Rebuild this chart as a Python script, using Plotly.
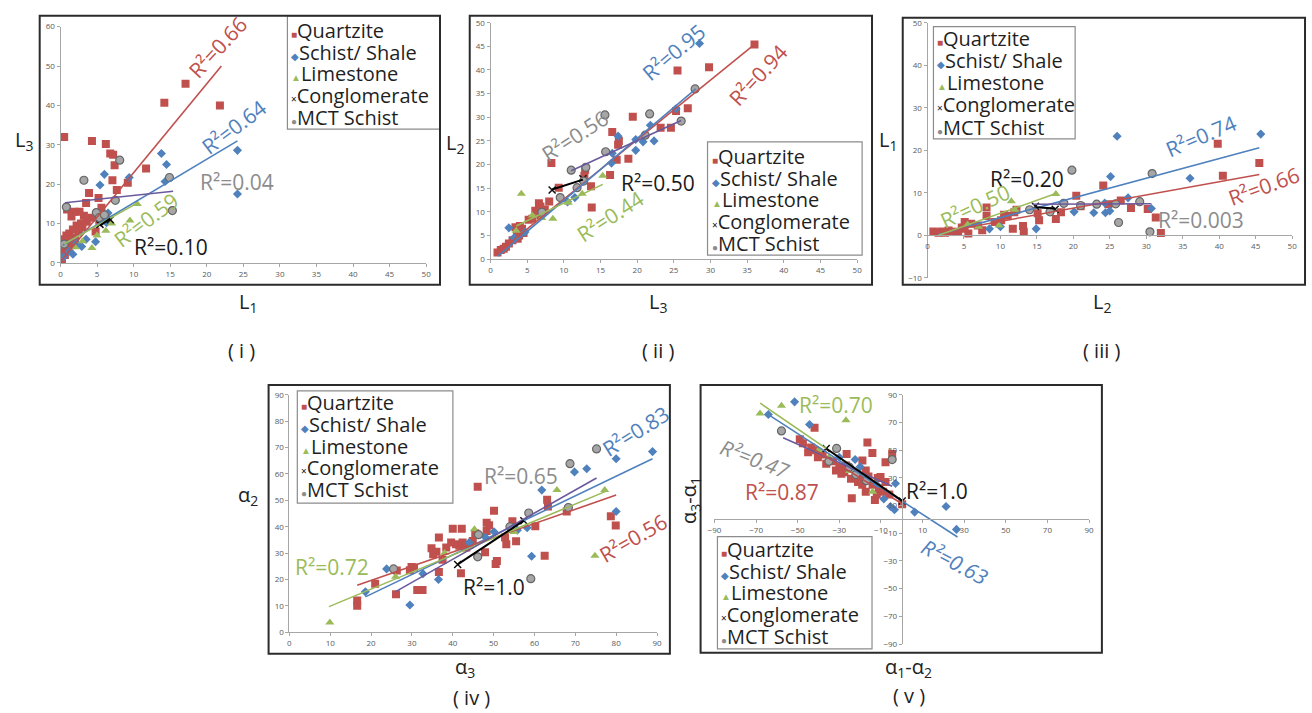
import plotly.graph_objects as go

W, H = 1312, 713

SERIES = ["Quartzite", "Schist/ Shale", "Limestone", "Conglomerate", "MCT Schist"]

# ---------------- Panel (i): L1 (x) vs L3 (y) ----------------
P1_QUARTZITE = [(0.5, 32), (4.3, 31), (6.2, 30.2), (6.8, 27.8), (7.2, 27.5), (7.4, 24.8), (7.1, 21), (7.7, 18.5),
                (9.2, 20.4), (11.7, 24), (14.2, 40.7), (17.1, 45.5), (21.8, 40), (5.2, 16.5), (3.9, 17.8), (3.5, 15.2),
                (2.6, 13), (1.9, 13), (0.9, 13.6), (1.5, 11.8), (5.6, 14), (5.3, 10.7), (4.8, 8), (3.2, 12), (2.8, 10),
                (2.2, 9.5), (1.7, 8.5), (1.2, 7.5), (0.8, 7), (0.5, 6), (1.0, 5), (1.5, 5.5), (2.0, 6.5), (0.3, 3),
                (0.6, 2), (1.1, 3.5), (0.2, 1), (2.5, 8), (3.0, 9), (3.6, 10.5), (4.2, 11.5), (6.0, 12), (6.5, 11),
                (1.3, 4.5)]
P1_SCHIST = [(24.2, 28.6), (24.2, 17.5), (13.8, 27.8), (14.5, 25), (14.3, 20.7), (6, 22.5), (5.4, 19.8), (9.4, 21.7),
             (4.8, 5.4), (2.9, 4.2), (1.7, 2.2), (6.5, 12.7), (5.8, 11.5), (6.3, 10.2), (0.4, 1.5), (1.2, 3), (3.5, 6),
             (2.2, 5)]
P1_LIMESTONE = [(4.3, 3.8), (6.2, 8.2), (7, 10), (9.5, 10.8), (10.5, 15), (3, 5.5), (2, 4), (5, 7)]
P1_CONGLOMERATE = [(5.4, 9.8), (6.8, 11.0)]
P1_MCT = [(0.8, 14.2), (3.2, 21), (8.1, 26.1), (7.5, 15.9), (14.9, 21.7), (15.3, 13.3), (4.9, 12.8), (5.3, 11.5),
          (0.5, 4.8), (6, 12.2)]
P1_TRENDS = [(0, 0.2, 0.8, 22, 50), (1, 0.3, 4.5, 24.2, 31), (4, 0.6, 15.3, 15.4, 18.2), (2, 0.5, 4.8, 10.3, 15),
             (3, 5.4, 9.5, 6.8, 11.3)]
P1_R2 = [(0, "0.66"), (1, "0.64"), (4, "0.04"), (2, "0.59"), (3, "0.10")]

# ---------------- Panel (ii): L3 (x) vs L2 (y) ----------------
P2_QUARTZITE = [(36, 45.4), (25.5, 39.9), (29.8, 40.6), (26.9, 31.9), (25.3, 31.3), (23.2, 27.8), (24.6, 27.8),
                (19.4, 30.1), (16.6, 26.9), (17.5, 25), (17.4, 24.2), (17.2, 21), (18.8, 21.2), (16.3, 17.8),
                (13.8, 10.9), (13.7, 15.4), (8.3, 20.3), (12.9, 18.9), (12.8, 17.6), (9.3, 15.1), (8, 12.2),
                (6.6, 11.8), (6.8, 11.1), (6.8, 9.2), (5.7, 8.5), (5.2, 8.3), (6.1, 10.2), (7.4, 10.5), (3.6, 5.7),
                (3.4, 6.7), (4.3, 6.4), (3.9, 5), (3.0, 4), (2.1, 2.6), (1.4, 1.9), (0.95, 1.4), (4.0, 7), (3.7, 4.3),
                (2.5, 3.3), (4.5, 5.5), (1.8, 2.2)]
P2_SCHIST = [(28.5, 45.6), (17.4, 26), (21.8, 28.3), (22.3, 25), (19.8, 25.3), (19.8, 23), (20.8, 24.8), (16.6, 22.4),
             (16.5, 20.3), (10.5, 12.1), (4.7, 5.7), (2.5, 6.6), (3.2, 4.5), (11.5, 13), (25.3, 31.8)]
P2_LIMESTONE = [(4.2, 13.8), (15.3, 17.6), (8.5, 8.5), (10.6, 11.9), (5.7, 9.2), (7, 8.7), (12.5, 13.8), (3.5, 6)]
P2_CONGLOMERATE = [(8.4, 14.6), (12.6, 17.0)]
P2_MCT = [(15.6, 30.5), (21.7, 30.7), (26, 29.2), (21.1, 26.2), (15.7, 22.7), (11, 18.8), (13, 19.4), (12.7, 16.5),
          (11.8, 15.1), (27.9, 36), (7, 9.9), (9.5, 13)]
P2_TRENDS = [(0, 0.9, 1.2, 36, 45.4), (1, 1.0, 0.6, 28, 36), (4, 11, 18.7, 26, 29.3), (2, 3.5, 7, 15.3, 15.8),
             (3, 8.4, 14.7, 12.6, 16.8)]
P2_R2 = [(1, "0.95"), (0, "0.94"), (4, "0.56"), (3, "0.50"), (2, "0.44")]

# ---------------- Panel (iii): L2 (x) vs L1 (y) ----------------
P3_QUARTZITE = [(39.8, 21.5), (45.5, 17), (40.5, 14), (24.1, 11.7), (20.4, 9.3), (26.5, 8.2), (27.9, 6.4), (30.2, 6.2),
                (31.3, 4.2), (32, 0.5), (24.8, 7.3), (21, 6.8), (18.3, 5.4), (17.6, 3.8), (15.1, 5.2), (15.3, 3.5),
                (13.2, 0.8), (13.1, 2.2), (11.7, 1.5), (8.1, 4.5), (8.1, 6.5), (11.9, 5.4), (10.1, 3.5), (6.9, 2.3),
                (5.1, 1.5), (4.2, 0.8), (3.3, 0.8), (2.4, 0.6), (1.5, 0.6), (0.8, 0.9), (5.1, 3.1), (6, 2.7),
                (5.6, 0.4), (11, 4.6), (9.2, 3.1), (12.2, 6), (10.5, 4.8), (7.5, 1.2), (4.7, 1.8), (2.9, 1.1),
                (1.9, 0.9)]
P3_SCHIST = [(26, 23.3), (25.1, 13.8), (36, 13.4), (45.7, 23.8), (27.5, 8.8), (30.7, 6.3), (22.8, 5.3), (20.1, 5.5),
             (24.3, 7.6), (24.4, 5.3), (14.9, 1.5), (8.5, 1.5), (25, 5.7), (18.5, 7.5), (10, 2)]
P3_LIMESTONE = [(11.5, 8), (17.6, 9.7), (5.5, 2.5), (7, 2), (9.8, 2.3), (12, 6)]
P3_CONGLOMERATE = [(14.8, 6.8), (17.5, 6.1)]
P3_MCT = [(19.8, 15.3), (30.8, 14.5), (26.2, 3), (30.5, 0.8), (23.2, 7.3), (25.8, 7.4), (29.1, 7.9), (18.7, 7.5),
          (16.8, 5.5), (21, 7), (14, 6)]
P3_TRENDS = [(1, 1.5, 0.2, 45.5, 20.6), (0, 0.8, 0.4, 45.5, 14.3), (4, 14.4, 7.3, 30.7, 7.4), (2, 1.5, 0, 17.6, 9.8),
             (3, 14.8, 6.6, 17.5, 6.3)]
P3_R2 = [(1, "0.74"), (0, "0.66"), (4, "0.003"), (3, "0.20"), (2, "0.50")]

# ---------------- Panel (iv): alpha3 (x) vs alpha2 (y) ----------------
P4_QUARTZITE = [(46.1, 55.2), (50.1, 46.1), (48.3, 41.5), (48.9, 40.6), (48.3, 38.4), (78.7, 44), (79.9, 40.5),
                (63.1, 50.2), (63.3, 47.7), (67.9, 45.8), (54.6, 42.1), (60.2, 40.2), (52.8, 35.9), (53.1, 33.4),
                (62.5, 29), (47.9, 30.3), (50.5, 25.9), (50.8, 27), (40, 39.2), (42.2, 39.2), (36.6, 35.9),
                (34.8, 31.8), (35.2, 29.6), (36, 30.5), (38.4, 32.1), (39.6, 34), (40.8, 33.4), (41.6, 32.8),
                (42.4, 34), (43.3, 32.1), (44, 33.1), (44.9, 34.6), (42, 22.4), (36.6, 22.8), (29.9, 24.7),
                (30.5, 24.5), (29.5, 23.5), (26.3, 23.4), (21, 18.4), (31.3, 16), (32.6, 16), (26.1, 14.4),
                (16.6, 12), (16.6, 10), (37.5, 27.5), (45.5, 37.5), (55.5, 34.5)]
P4_SCHIST = [(88.9, 68.5), (80, 65.8), (72.8, 62), (69.8, 60.8), (61.8, 53.9), (80, 45.8), (59.3, 28.8), (29.5, 10.3),
             (36.5, 20), (32.7, 22.2), (18.6, 15.3), (50.1, 38.1), (55.8, 38.7), (58.2, 39.6), (23.8, 24), (48, 36),
             (44, 34)]
P4_LIMESTONE = [(9.9, 3.7), (74.8, 29), (65.5, 53.9), (77.2, 53.9), (68.2, 47.7), (45.3, 39), (26, 21), (38, 30),
                (55, 38)]
P4_CONGLOMERATE = [(41.2, 25.7), (57.4, 42.3)]
P4_MCT = [(75.2, 69.5), (68.7, 63.9), (58.6, 45.2), (46.1, 28.6), (59.1, 20.3), (68.3, 47.3), (25.5, 24), (46.3, 37),
          (54, 40)]
P4_TRENDS = [(1, 18.6, 13.4, 88.9, 65.8), (0, 16.6, 17.8, 80, 52), (2, 9.7, 9.7, 77.6, 53.5),
             (4, 25.9, 15.3, 75.2, 58.5), (3, 41.2, 25.7, 57.4, 42.3)]
P4_R2 = [(1, "0.83"), (0, "0.56"), (4, "0.65"), (2, "0.72"), (3, "1.0")]

# ---------------- Panel (v): alpha1-alpha2 (x) vs alpha3-alpha1 (y) ----------------
P5_QUARTZITE = [(-41.9, 66.3), (-49, 58), (-47.5, 55), (-45, 48.5), (-40.3, 44.9), (-38, 47), (-36.3, 40.2),
                (-43.5, 52), (-42, 50), (-16.5, 55.6), (-14.1, 48), (-18.9, 42.6), (-26.5, 47.3), (-31.6, 35.4),
                (-7.8, 41.3), (-4.6, 47.3), (-24, 15.3), (-17.3, 20), (-12.9, 14.1), (-11, 22.4), (-10.2, 30.7),
                (-11.5, 30), (-7.8, 27.1), (0.2, 11), (-24.4, 29.5), (-20.5, 30.7), (-17.3, 35.4), (-16, 31),
                (-26.8, 39), (-30, 37.8), (-27.6, 34.2), (-21, 27), (-19, 25), (-14, 25), (-9, 20), (-6, 18),
                (-12, 18), (-33, 42), (-29, 33)]
P5_SCHIST = [(-51.5, 85), (-64.1, 75.8), (-44.3, 68.6), (-22.4, 43.3), (-8.6, 14.8), (-5.4, 9.4), (-3.5, 7),
             (6.2, 5.3), (21.3, 9.4), (26.3, -7.2), (-3, 26), (-20, 38), (-30, 45), (-12, 25)]
P5_LIMESTONE = [(-68.1, 76.5), (-57.8, 82.2), (-26.8, 71.7), (-40, 50), (-25, 35), (-14, 20), (-35, 45)]
P5_CONGLOMERATE = [(-36.3, 51.3), (0.2, 13.4)]
P5_MCT = [(-57.8, 64), (-31.3, 51.3), (-4.6, 43.3), (-25.2, 37.8), (-22, 32.4), (-17, 28), (-35, 42)]
P5_TRENDS = [(1, -64.1, 75.8, 26.8, -12.7), (2, -68, 84, -2, 16), (4, -57, 59, -4.6, 24), (0, -50, 58, 0.5, 11),
             (3, -36.3, 51.3, 0.2, 13.4)]
P5_R2 = [(2, "0.70"), (4, "0.47"), (0, "0.87"), (3, "1.0"), (1, "0.63")]

# tick values
TICKS_0_50_5 = list(range(0, 51, 5))
TICKS_0_60_10 = list(range(0, 61, 10))
TICKS_M10_50_10 = list(range(-10, 51, 10))
TICKS_0_90_10 = list(range(0, 91, 10))
TICKS_ODD_90 = list(range(-90, 91, 20))

# ======================= styling / layout =======================
FONT = "Open Sans"
COL = ["#c0504d", "#4f81bd", "#9bbb59", "#111111", "#a6a6a6"]
LINE_COL = ["#c0504d", "#4f81bd", "#9bbb59", "#000000", "#6a5a9c"]
LABEL_COL = ["#c0504d", "#4f81bd", "#9bbb59", "#1a1a1a", "#8c8c8c"]
MARKERS = [
    dict(symbol="square", size=8, color=COL[0]),
    dict(symbol="diamond", size=7, color=COL[1]),
    dict(symbol="triangle-up", size=8, color=COL[2]),
    dict(symbol="x-thin", size=7, color=COL[3], line=dict(width=1.5, color=COL[3])),
    dict(symbol="circle", size=8, color=COL[4], line=dict(width=1.2, color="#666666")),
]
GLYPHS = ["■", "◆", "▲", "×", "●"]
GLYPH_COL = [COL[0], COL[1], COL[2], "#111111", "#8c8c8c"]


def pxx(x):
    return x / W


def pxy(y):
    return 1 - y / H


def r2_text(val):
    return f"R²={val}"


PANELS = [
    dict(data=[P1_QUARTZITE, P1_SCHIST, P1_LIMESTONE, P1_CONGLOMERATE, P1_MCT], trends=P1_TRENDS, r2=P1_R2,
         xpx=(54, 423), ypx=(21, 261), xr=(0, 50), yr=(0, 60), xt=TICKS_0_50_5, yt=TICKS_0_60_10,
         frame=(33, 10, 437, 283), legend=(283, 10, 437, 125), leg_y0=25, leg_dy=22,
         r2pos=[(213, 42, -47), (229, 123, -37), (232, 179, 0), (140, 217, -37), (166, 245, 0)],
         r2italic=[False] * 5,
         xtitle=("L<sub>1</sub>", 243, 301), ytitle=("L<sub>3</sub>", 17, 137, 0), caption=("( i )", 237, 350)),
    dict(data=[P2_QUARTZITE, P2_SCHIST, P2_LIMESTONE, P2_CONGLOMERATE, P2_MCT], trends=P2_TRENDS, r2=P2_R2,
         xpx=(488, 858), ypx=(17, 257), xr=(0, 50), yr=(0, 50), xt=TICKS_0_50_5, yt=TICKS_0_50_5,
         frame=(467, 10, 873, 283), legend=(707, 138, 863, 253), leg_y0=153, leg_dy=22,
         r2pos=[(673, 47, -40), (758, 70, -47), (573, 132, -33), (657, 180, 0), (609, 213, -33)],
         r2italic=[False] * 5,
         xtitle=("L<sub>3</sub>", 657, 301), ytitle=("L<sub>2</sub>", 452, 140, 0), caption=("( ii )", 657, 350)),
    dict(data=[P3_QUARTZITE, P3_SCHIST, P3_LIMESTONE, P3_CONGLOMERATE, P3_MCT], trends=P3_TRENDS, r2=P3_R2,
         xpx=(929, 1297), ypx=(17, 276), xr=(0, 50), yr=(-10, 50), xt=TICKS_0_50_5, yt=TICKS_M10_50_10,
         frame=(904, 12, 1310, 283), legend=(935, 21, 1078, 135), leg_y0=33, leg_dy=22.5, xcross0=True,
         r2pos=[(1205, 132, -23), (1269, 183, -20), (1205, 217, 0), (1029, 176, 0), (977, 203, -25)],
         r2italic=[False] * 5,
         xtitle=("L<sub>2</sub>", 1105, 301), ytitle=("L<sub>1</sub>", 889, 137, 0), caption=("( iii )", 1105, 350)),
    dict(data=[P4_QUARTZITE, P4_SCHIST, P4_LIMESTONE, P4_CONGLOMERATE, P4_MCT], trends=P4_TRENDS, r2=P4_R2,
         xpx=(285, 656), ypx=(395, 636), xr=(0, 90), yr=(0, 90), xt=TICKS_0_90_10, yt=TICKS_0_90_10,
         frame=(264, 385, 669, 658), legend=(293, 391, 450, 505), leg_y0=403, leg_dy=22,
         r2pos=[(635, 432, -32), (632, 540, -30), (519, 477, 0), (328, 570, 0), (491, 590, 0)],
         r2italic=[False] * 5,
         xtitle=("α<sub>3</sub>", 462, 672), ytitle=("α<sub>2</sub>", 243, 497, 0), caption=("( iv )", 469, 702)),
    dict(data=[P5_QUARTZITE, P5_SCHIST, P5_LIMESTONE, P5_CONGLOMERATE, P5_MCT], trends=P5_TRENDS, r2=P5_R2,
         xpx=(714, 1092), ypx=(395, 648), xr=(-90, 90), yr=(-90, 90), xt=TICKS_ODD_90, yt=TICKS_ODD_90,
         frame=(700, 385, 1105, 657), legend=(717, 539, 873, 653), leg_y0=552, leg_dy=22, xcross0=True, ycross0=True,
         r2pos=[(837, 405, 0), (755, 460, 21), (782, 494, 0), (939, 493, 0), (957, 565, 28)],
         r2italic=[False, True, False, False, True],
         xtitle=("α<sub>1</sub>-α<sub>2</sub>", 910, 672), ytitle=("α<sub>3</sub>-α<sub>1</sub>", 689, 502, -90),
         caption=("( v )", 910, 700)),
]

fig = go.Figure()
layout = dict(width=W, height=H, margin=dict(l=0, r=0, t=0, b=0), autosize=False,
              paper_bgcolor="white", plot_bgcolor="white", showlegend=False,
              font=dict(family=FONT, color="#222222"))
annotations = []
shapes = []

for k, p in enumerate(PANELS, start=1):
    xa, ya = f"x{k}", f"y{k}"
    for s, pts in enumerate(p["data"]):
        fig.add_trace(go.Scatter(x=[q[0] for q in pts], y=[q[1] for q in pts], mode="markers",
                                 marker=MARKERS[s], name=SERIES[s], xaxis=xa, yaxis=ya,
                                 showlegend=False, hoverinfo="skip"))
    for (s, x0, y0, x1, y1) in p["trends"]:
        fig.add_trace(go.Scatter(x=[x0, x1], y=[y0, y1], mode="lines",
                                 line=dict(color=LINE_COL[s], width=1.6 if s != 3 else 2),
                                 xaxis=xa, yaxis=ya, showlegend=False, hoverinfo="skip"))

    xd = [pxx(p["xpx"][0]), pxx(p["xpx"][1])]
    yd = [pxy(p["ypx"][1]), pxy(p["ypx"][0])]
    common = dict(showgrid=False, zeroline=False, showline=True, linecolor="#a6a6a6", linewidth=1,
                  ticks="outside", ticklen=3, tickcolor="#a6a6a6",
                  tickfont=dict(size=8, color="#595959", family=FONT), fixedrange=True)
    xaxis = dict(domain=xd, range=list(p["xr"]), tickvals=p["xt"], anchor=ya, **common)
    yaxis = dict(domain=yd, range=list(p["yr"]), tickvals=p["yt"], anchor=xa, **common)
    if p.get("xcross0"):
        frac = (0 - p["yr"][0]) / (p["yr"][1] - p["yr"][0])
        xaxis["anchor"] = "free"
        xaxis["position"] = yd[0] + frac * (yd[1] - yd[0])
    if p.get("ycross0"):
        frac = (0 - p["xr"][0]) / (p["xr"][1] - p["xr"][0])
        yaxis["anchor"] = "free"
        yaxis["position"] = xd[0] + frac * (xd[1] - xd[0])
    layout[f"xaxis{k}"] = xaxis
    layout[f"yaxis{k}"] = yaxis

    fx0, fy0, fx1, fy1 = p["frame"]
    shapes.append(dict(type="rect", xref="paper", yref="paper", x0=pxx(fx0), x1=pxx(fx1), y0=pxy(fy1), y1=pxy(fy0),
                       line=dict(color="#2b2b2b", width=2), fillcolor="rgba(0,0,0,0)", layer="above"))
    lx0, ly0, lx1, ly1 = p["legend"]
    shapes.append(dict(type="rect", xref="paper", yref="paper", x0=pxx(lx0), x1=pxx(lx1), y0=pxy(ly1), y1=pxy(ly0),
                       line=dict(color="#8c8c8c", width=1.2), fillcolor="white", layer="below"))
    for s, name in enumerate(SERIES):
        txt = f"<span style='font-size:10px;color:{GLYPH_COL[s]}'>{GLYPHS[s]}</span>{name}"
        annotations.append(dict(xref="paper", yref="paper", x=pxx(lx0 + 2), y=pxy(p["leg_y0"] + s * p["leg_dy"]),
                                xanchor="left", yanchor="middle", text=txt, showarrow=False,
                                font=dict(size=20, family=FONT, color="#1f1f1f")))
    for (s, val), (cx, cy, ang), it in zip(p["r2"], p["r2pos"], p["r2italic"]):
        f = dict(size=21, family=FONT, color=LABEL_COL[s])
        if it:
            f["style"] = "italic"
        annotations.append(dict(xref="paper", yref="paper", x=pxx(cx), y=pxy(cy), xanchor="center",
                                yanchor="middle", text=r2_text(val), showarrow=False,
                                textangle=ang, font=f))
    t, tx, ty = p["xtitle"]
    annotations.append(dict(xref="paper", yref="paper", x=pxx(tx), y=pxy(ty), text=t, showarrow=False,
                            xanchor="center", yanchor="middle", font=dict(size=20, family=FONT, color="#222")))
    t, tx, ty, ang = p["ytitle"]
    annotations.append(dict(xref="paper", yref="paper", x=pxx(tx), y=pxy(ty), text=t, showarrow=False,
                            textangle=ang, xanchor="center", yanchor="middle",
                            font=dict(size=20, family=FONT, color="#222")))
    t, tx, ty = p["caption"]
    annotations.append(dict(xref="paper", yref="paper", x=pxx(tx), y=pxy(ty), text=t, showarrow=False,
                            xanchor="center", yanchor="middle", font=dict(size=20, family=FONT, color="#222")))

layout["annotations"] = annotations
layout["shapes"] = shapes
fig.update_layout(**layout)
fig.write_html("out.html", config={"displayModeBar": False})
